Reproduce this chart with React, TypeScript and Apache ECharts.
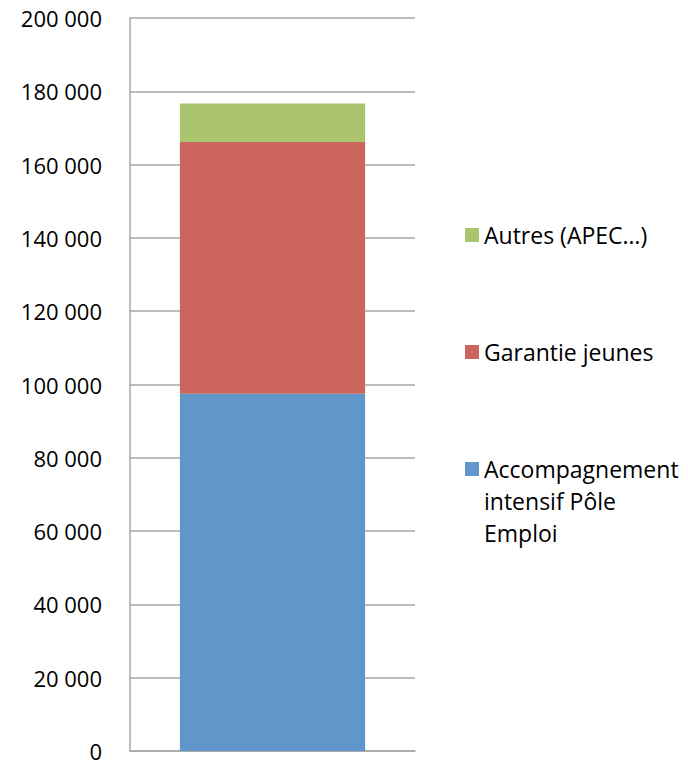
import React, { useEffect, useRef } from "react";
import * as echarts from "echarts";

const categories = [""];
const seriesNames = ["Accompagnement intensif Pôle Emploi", "Garantie jeunes", "Autres (APEC…)"];
const accompagnement = [97500];
const garantie = [68700];
const autres = [10500];
const yTicks = { min: 0, max: 200000, interval: 20000 };

const colors = ["#6096C9", "#CD655F", "#ABC46E"];
const FONT = "'Open Sans', sans-serif";

function fmt(v: number) {
  return String(v).replace(/\B(?=(\d{3})+(?!\d))/g, " ");
}

export default function App() {
  const ref = useRef<HTMLDivElement>(null);
  useEffect(() => {
    document.body.style.margin = "0";
    const chart = echarts.init(ref.current!, null, { renderer: "svg" });
    const legendText = { fontFamily: FONT, fontSize: 23, color: "#000", lineHeight: 32 };
    const common = {
      left: 465, padding: 0, orient: "vertical",
      itemWidth: 14, itemHeight: 14, itemGap: 7, icon: "rect", selectedMode: false,
    };
    chart.setOption({
      animation: false,
      grid: { left: 130, right: 273, top: 18, bottom: 11, outerBoundsMode: "none" },
      legend: [
        { ...common, data: [seriesNames[2]], top: 219, textStyle: legendText },
        { ...common, data: [seriesNames[1]], top: 336, textStyle: legendText },
        {
          ...common,
          data: [seriesNames[0]],
          top: 389,
          formatter: () => "{pad| }\nAccompagnement\nintensif Pôle\nEmploi",
          textStyle: {
            ...legendText,
            rich: { pad: { height: 64, lineHeight: 64, fontSize: 10 } },
          },
        },
      ],
      xAxis: {
        type: "category",
        data: categories,
        axisLine: { show: true, lineStyle: { color: "#A6A6A6", width: 1.5 } },
        axisTick: { show: false },
        axisLabel: { show: false },
      },
      yAxis: {
        type: "value",
        min: yTicks.min,
        max: yTicks.max,
        interval: yTicks.interval,
        axisLine: { show: true, lineStyle: { color: "#A6A6A6", width: 1.5 } },
        axisTick: { show: false },
        splitLine: { show: true, lineStyle: { color: "#A6A6A6", width: 1.5 } },
        axisLabel: {
          formatter: (v: number) => fmt(v),
          fontFamily: FONT,
          fontSize: 22,
          color: "#000",
          margin: 28,
        },
      },
      series: [
        { name: seriesNames[0], type: "bar", stack: "t", data: accompagnement, barWidth: "65%", itemStyle: { color: colors[0] } },
        { name: seriesNames[1], type: "bar", stack: "t", data: garantie, barWidth: "65%", itemStyle: { color: colors[1] } },
        { name: seriesNames[2], type: "bar", stack: "t", data: autres, barWidth: "65%", itemStyle: { color: colors[2] } },
      ],
    });
    return () => chart.dispose();
  }, []);
  return <div ref={ref} style={{ width: 688, height: 762 }} />;
}
